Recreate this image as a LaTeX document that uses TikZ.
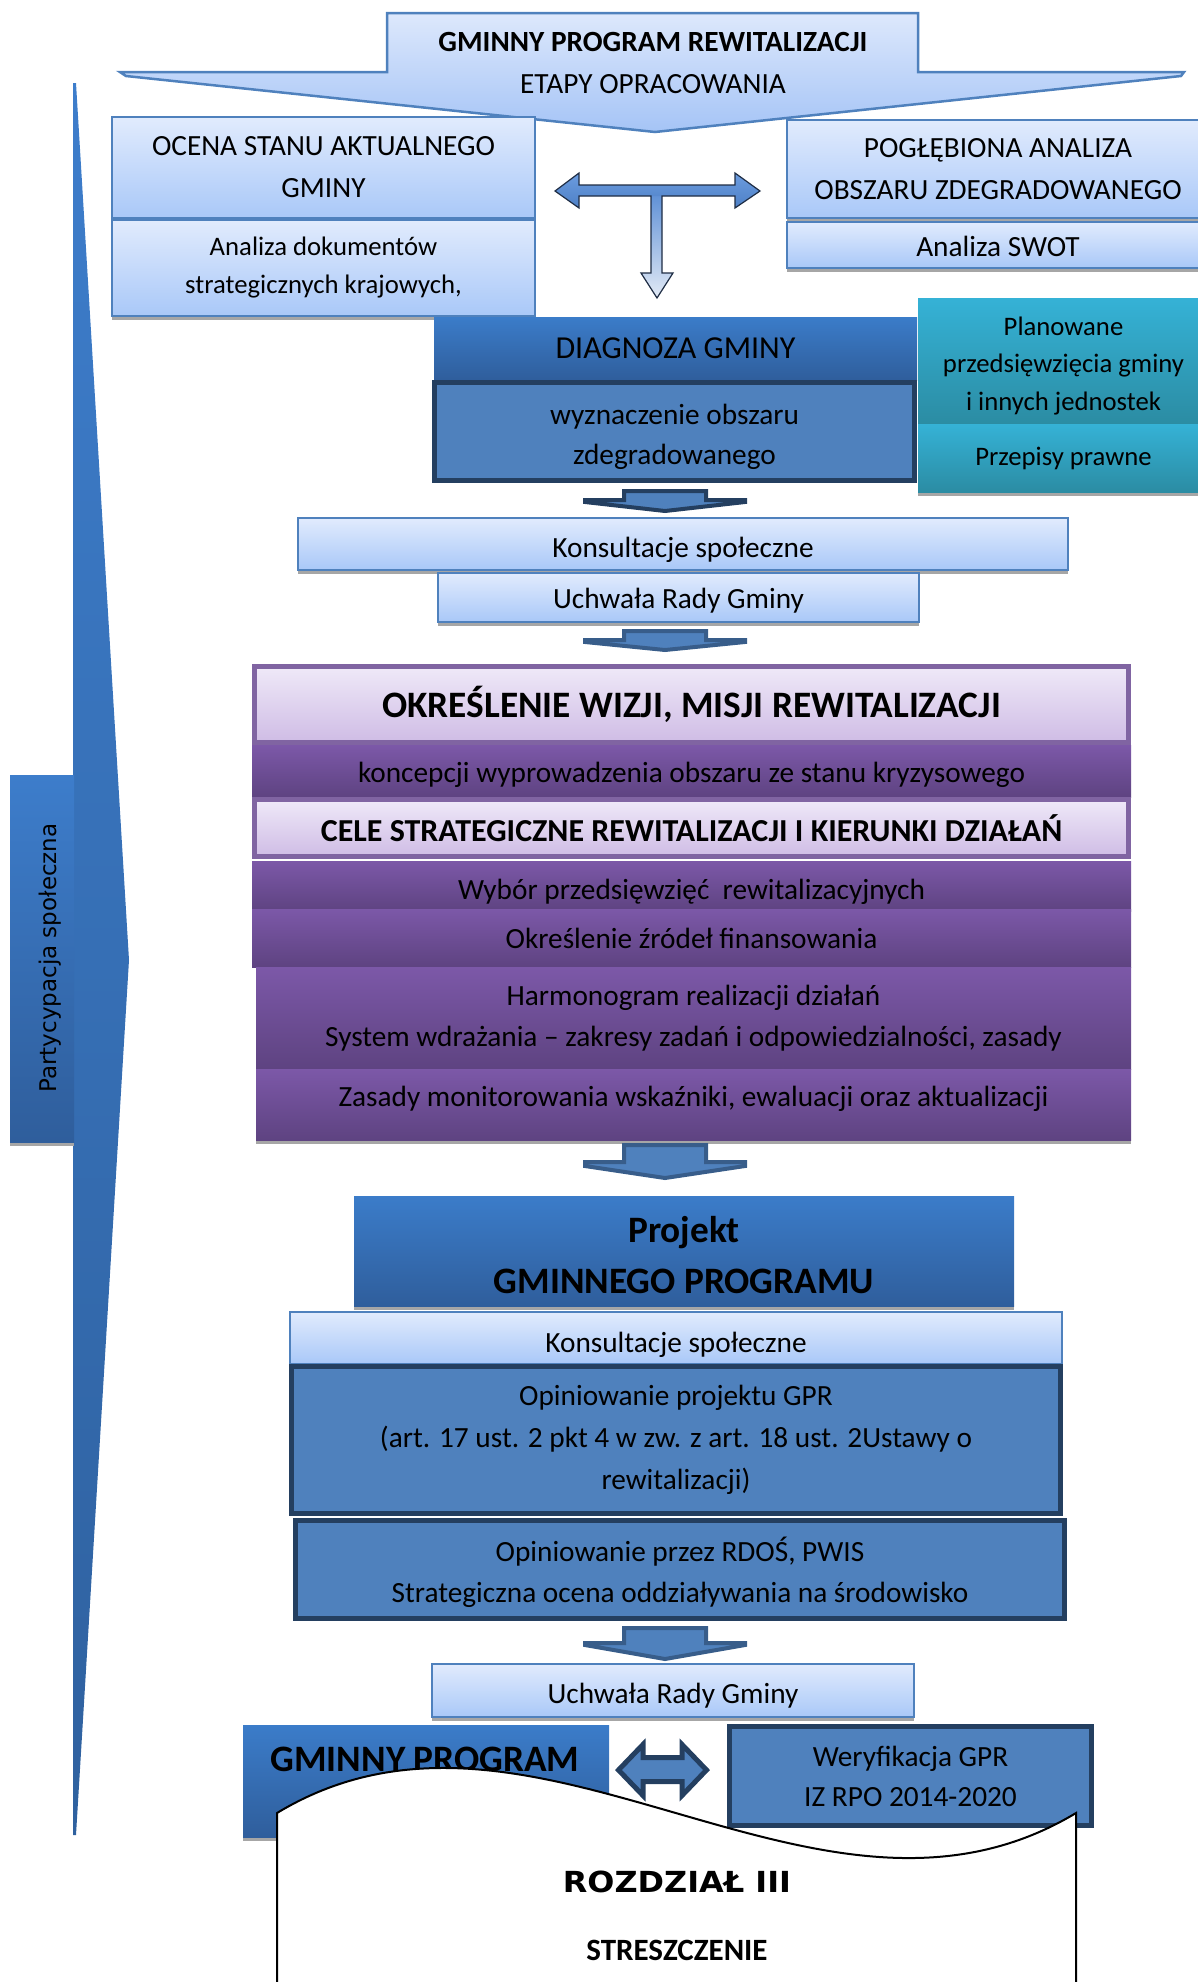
\documentclass[tikz,border=0pt]{standalone}
\usepackage{fontspec}
\setmainfont{Carlito}
\newfontfamily\dejavufam{DejaVu Sans}
\newfontfamily\dejavuwide[FakeStretch=1.1]{DejaVu Sans}
\usetikzlibrary{shadings,shadows}
\definecolor{lbtop}{HTML}{E1EBFD}
\definecolor{lbbot}{HTML}{A9C8F8}
\definecolor{lbborder}{HTML}{4F81BD}
\definecolor{dbtop}{HTML}{3B7CC9}
\definecolor{dbbot}{HTML}{2F5E9C}
\definecolor{mb}{HTML}{4F81BD}
\definecolor{navy}{HTML}{243F60}
\definecolor{navyb}{HTML}{385D8A}
\definecolor{tealtop}{HTML}{35B2D6}
\definecolor{tealbot}{HTML}{2B8CA3}
\definecolor{purtop}{HTML}{7C58A8}
\definecolor{purbot}{HTML}{5E4381}
\definecolor{lavtop}{HTML}{EFE9F8}
\definecolor{lavbot}{HTML}{CFBCE5}
\definecolor{purborder}{HTML}{8064A2}
\definecolor{shadowgray}{HTML}{A6A6A6}
\definecolor{bigtop}{HTML}{3D7DCB}
\definecolor{bigbot}{HTML}{2F619F}
\definecolor{ttop}{HTML}{DDE8FC}
\definecolor{tbot}{HTML}{A5C4F6}
\definecolor{harrtop}{HTML}{6C9CDF}
\definecolor{harrbot}{HTML}{4D80C6}
\definecolor{varrtop}{HTML}{5A8DD4}
\definecolor{varrbot}{HTML}{E2EAF6}
\definecolor{toutline}{HTML}{1F2D44}
\newcommand\fsA{\fontsize{29.3}{42}\selectfont}
\newcommand\fsB{\fontsize{26.7}{38}\selectfont}
\newcommand\fsC{\fontsize{32}{44}\selectfont}
\newcommand\fsD{\fontsize{37.3}{51}\selectfont}
\newcommand\downarrowshape[5]{%
  \draw[fill=mb, draw=#5, line width=4pt, line join=miter]
    (624,#1) -- (706,#1) -- (706,#2) -- (745,#2) -- (745,#3) -- (665,#4)
    -- (585,#3) -- (585,#2) -- (624,#2) -- cycle;}
\tikzset{
  box/.style={inner sep=0pt, outer sep=0pt, align=center, font=\fsA, text=black},
  shad/.style={drop shadow={shadow xshift=0pt, shadow yshift=-4pt, fill=shadowgray, opacity=1}},
  lb/.style={box, draw=lbborder, line width=2pt, top color=lbtop, bottom color=lbbot, shad},
  db/.style={box, top color=dbtop, bottom color=dbbot},
  mbx/.style={box, fill=mb, draw=navy, line width=5pt},
  tealbox/.style={box, top color=tealtop, bottom color=tealbot, font=\fsB},
  pur/.style={box, top color=purtop, bottom color=purbot},
  lav/.style={box, draw=purborder, line width=5pt, top color=lavtop, bottom color=lavbot},
  tb/.style={text height=#1, text depth=6pt},
}
\begin{document}
\begin{tikzpicture}[x=1pt,y=-1pt]
\useasboundingbox (0,0) rectangle (1198,1982);

% big left arrow
\path[top color=bigtop, bottom color=bigbot] (73,83) -- (76,83) -- (129,960) -- (76,1835) -- (73,1835) -- cycle;
\node[box, shad, top color=bigtop, bottom color=dbbot, minimum width=64, minimum height=367] (partbox) at (42,958.5) {};
\node[rotate=90, inner sep=0pt, font=\dejavufam\fontsize{23}{28}\selectfont] (partxt) at (50,958) {Partycypacja społeczna};

% top arrow
\path[draw=lbborder, line width=2.5pt, top color=ttop, bottom color=tbot, line join=miter]
  (387,13) -- (918,13) -- (918,72) -- (1184,72) -- (1181,76) -- (655,132) -- (126,76) -- (120,72) -- (387,72) -- cycle;
\node[box, font=\fsA\bfseries] (title1) at (653,42) {GMINNY PROGRAM REWITALIZACJI};
\node[box] (title2) at (653,84) {ETAPY OPRACOWANIA};

% left / right boxes
\node[lb, minimum width=423, minimum height=101] (ocena) at (323.5,167.5) {OCENA STANU AKTUALNEGO\\GMINY};
\node[lb, font=\fsB, minimum width=423, minimum height=96] (analiza) at (323.5,268) {Analiza dokumentów\\strategicznych krajowych,};
\node[lb, minimum width=422, minimum height=98] (poglebiona) at (998,169) {POGŁĘBIONA ANALIZA\\OBSZARU ZDEGRADOWANEGO};
\node[lb, tb=28pt, minimum width=422, minimum height=46] (swot) at (998,245) {Analiza SWOT};

% T arrow
\shade[top color=varrtop, bottom color=varrbot] (651,190) -- (662,190) -- (662,273) -- (673,273) -- (657,298) -- (641,273) -- (651,273) -- cycle;
\shade[top color=harrtop, bottom color=harrbot] (555,191) -- (579,173) -- (579,185) -- (735,185) -- (735,173) -- (760,191) -- (735,208) -- (735,196) -- (579,196) -- (579,208) -- cycle;
\draw[toutline, line width=1.2pt, line join=miter] (555,191) -- (579,173) -- (579,185) -- (735,185) -- (735,173) -- (760,191) -- (735,208) -- (735,196) -- (662,196) -- (662,273) -- (673,273) -- (657,298) -- (641,273) -- (651,273) -- (651,196) -- (579,196) -- (579,208) -- cycle;

% diagnoza
\node[db, font=\fsC, minimum width=483, minimum height=63] (diagnoza) at (675.5,348.5) {DIAGNOZA GMINY};
\node[mbx, minimum width=480, minimum height=98] (wyzn) at (674.5,431.5) {};
\node[box] (wyzntxt) at (674.5,436.5) {wyznaczenie obszaru\\[-2pt]zdegradowanego};
\node[tealbox, shad, minimum width=291, minimum height=126] (planowane) at (1063.5,361) {};
\node[box, font=\fsB] (planowanetxt) at (1063.5,366) {Planowane\\[-0.5pt]przedsięwzięcia gminy\\[-0.5pt]i innych jednostek};
\node[tealbox, shad, minimum width=291, minimum height=68] (przepisy) at (1063.5,458) {Przepisy prawne};

\downarrowshape{491}{500}{502}{511}{navy}

\node[lb, tb=32pt, minimum width=770, minimum height=52] (kons1) at (683,544) {Konsultacje społeczne};
\node[lb, tb=28pt, minimum width=481, minimum height=49] (uchw1) at (678.5,597.5) {Uchwała Rady Gminy};

\downarrowshape{631}{640}{642}{650}{navyb}

% purple block
\node[lav, font=\fontsize{37.3}{44}\selectfont\bfseries, minimum width=874, minimum height=76] (wizja) at (691.5,704.5) {OKREŚLENIE WIZJI, MISJI REWITALIZACJI};
\node[pur, tb=28pt, minimum width=879, minimum height=52] (koncepcji) at (691.5,771) {koncepcji wyprowadzenia obszaru ze stanu kryzysowego};
\node[lav, font=\fsC\bfseries, minimum width=874, minimum height=57] (cele) at (691.5,828) {CELE STRATEGICZNE REWITALIZACJI I KIERUNKI DZIAŁAŃ};
\node[pur, tb=32pt, minimum width=879, minimum height=50] (wybor) at (691.5,886) {Wybór przedsięwzięć~ rewitalizacyjnych};
\node[pur, minimum width=879, minimum height=58] (zrodla) at (691.5,938) {Określenie źródeł finansowania};
\node[pur, minimum width=875, minimum height=102] (harmonogram) at (693.5,1018) {Harmonogram realizacji działań\\[-1pt]System wdrażania – zakresy zadań i odpowiedzialności, zasady};
\node[pur, shad, tb=10pt, minimum width=875, minimum height=71] (zasady) at (693.5,1104.5) {Zasady monitorowania wskaźniki, ewaluacji oraz aktualizacji};

\downarrowshape{1145}{1162}{1166}{1178}{navyb}

% projekt
\node[db, shad, minimum width=660, minimum height=110] (projekt) at (684,1251) {};
\node[box, font=\fsD\bfseries] (projekttxt) at (684,1255) {Projekt\\GMINNEGO PROGRAMU};
\node[lb, tb=35pt, minimum width=772, minimum height=52] (kons2) at (676,1338) {Konsultacje społeczne};
\node[mbx, minimum width=769, minimum height=147] (opgpr) at (676,1440) {Opiniowanie projektu GPR\\(art. 17 ust. 2 pkt 4 w zw. z art. 18 ust. 2Ustawy o\\rewitalizacji)};
\node[mbx, minimum width=769, minimum height=98] (oprdos) at (680,1569.5) {};
\node[box] (oprdostxt) at (680,1572) {Opiniowanie przez RDOŚ, PWIS\\[-1pt]Strategiczna ocena oddziaływania na środowisko};

\downarrowshape{1628}{1643}{1645}{1659}{navyb}

\node[lb, tb=32pt, minimum width=482, minimum height=53] (uchw2) at (673,1690.5) {Uchwała Rady Gminy};

% bottom
\node[db, shad, minimum width=366, minimum height=112] (gp) at (426,1781) {};
\node[box, font=\fsD\bfseries] (gptxt) at (425,1759) {GMINNY PROGRAM};
\node[mbx, minimum width=362, minimum height=99] (wer) at (910.5,1776) {Weryfikacja GPR\\[-2pt]IZ RPO 2014-2020};

% wave document
\path[fill=white, draw=black, line width=2pt] (277,1995) -- (277,1813) .. controls (535,1657) and (816,1969) .. (1076,1813) -- (1076,1995);
\node[box, font=\dejavuwide\fontsize{29}{34}\selectfont\bfseries] (rozdzial) at (677,1882) {ROZDZIAŁ III};
\node[box, font=\fontsize{31}{36}\selectfont\bfseries] (streszczenie) at (677,1950) {STRESZCZENIE};

% double arrow
\draw[fill=mb, draw=navy, line width=5pt, line join=miter]
  (618.5,1770) -- (643,1744.5) -- (643,1757.5) -- (682,1757.5) -- (682,1744.5) -- (706.5,1770)
  -- (682,1795.5) -- (682,1781.5) -- (643,1781.5) -- (643,1795.5) -- cycle;
\end{tikzpicture}
\end{document}
